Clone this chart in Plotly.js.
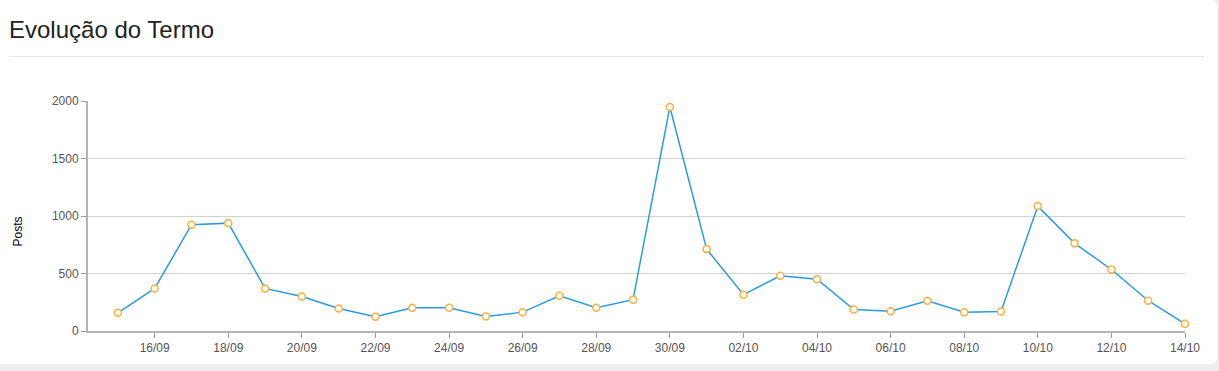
<!DOCTYPE html>
<html>
<head>
<meta charset="utf-8">
<script src="https://cdn.plot.ly/plotly-3.0.1.min.js"></script>
<style>
  html, body { margin: 0; padding: 0; background: #eeeeee; width: 1219px; height: 371px; overflow: hidden; }
  #card { position: absolute; left: 0; top: 0; width: 1217px; height: 364px; background: #ffffff; border-radius: 0 6px 6px 0; }
  #title { position: absolute; left: 9px; top: 18px; font-family: "Liberation Sans", Arial, sans-serif; font-size: 24px; line-height: 24px; color: #222222; white-space: nowrap; }
  #sep { position: absolute; left: 10px; top: 56px; width: 1194px; height: 1px; background: #e5e5e5; }
  #chart { position: absolute; left: 0; top: 0; width: 1219px; height: 371px; }
</style>
</head>
<body>
<div id="card"></div>
<div id="title">Evolução do Termo</div>
<div id="sep"></div>
<div id="chart"></div>
<script>
const dates = [
  "2023-09-15","2023-09-16","2023-09-17","2023-09-18","2023-09-19","2023-09-20",
  "2023-09-21","2023-09-22","2023-09-23","2023-09-24","2023-09-25","2023-09-26",
  "2023-09-27","2023-09-28","2023-09-29","2023-09-30","2023-10-01","2023-10-02",
  "2023-10-03","2023-10-04","2023-10-05","2023-10-06","2023-10-07","2023-10-08",
  "2023-10-09","2023-10-10","2023-10-11","2023-10-12","2023-10-13","2023-10-14"
];
const posts = [
  158, 370, 924, 938, 370, 300,
  196, 124, 202, 202, 126, 164,
  306, 202, 272, 1948, 712, 316,
  480, 451, 187, 172, 263, 164,
  170, 1086, 762, 535, 263, 63
];
const yTicks = [0, 500, 1000, 1500, 2000];
const yLabel = "Posts";

const trace = {
  x: dates,
  y: posts,
  type: "scatter",
  mode: "lines+markers",
  cliponaxis: false,
  line: { color: "#2b9be0", width: 1.5 },
  marker: { symbol: "circle", size: 7, color: "#ffffff", line: { color: "#fbb040", width: 1.5 } },
  hoverinfo: "x+y"
};

const layout = {
  width: 1219,
  height: 371,
  margin: { l: 88, r: 34, t: 101, b: 40 },
  paper_bgcolor: "rgba(0,0,0,0)",
  plot_bgcolor: "rgba(0,0,0,0)",
  showlegend: false,
  font: { family: "Liberation Sans, Arial, sans-serif", size: 12, color: "#555555" },
  xaxis: {
    type: "date",
    range: ["2023-09-14 04:30", "2023-10-14 00:00:01"],
    tick0: "2023-09-16",
    dtick: 2 * 86400000,
    tickformat: "%d/%m",
    showgrid: false,
    zeroline: false,
    showline: true,
    linecolor: "#b3b3b3",
    linewidth: 2,
    ticks: "outside",
    ticklen: 5,
    tickcolor: "#999999",
    tickwidth: 1,
    tickfont: { size: 12, color: "#555555" },
    fixedrange: true
  },
  yaxis: {
    range: [0, 2000],
    tickvals: yTicks,
    ticktext: yTicks.map(String),
    showgrid: true,
    gridcolor: "#d2d2d2",
    gridwidth: 1,
    zeroline: false,
    showline: true,
    linecolor: "#b3b3b3",
    linewidth: 2,
    ticks: "outside",
    ticklen: 5,
    tickcolor: "#999999",
    tickwidth: 1,
    tickfont: { size: 12, color: "#555555" },
    fixedrange: true
  },
  annotations: [{
    text: yLabel,
    xref: "paper", yref: "paper",
    x: -0.0638, y: 0.433,
    xanchor: "center", yanchor: "middle",
    textangle: -90,
    showarrow: false,
    font: { size: 12, color: "#000000" }
  }]
};

Plotly.newPlot("chart", [trace], layout, { displayModeBar: false });
</script>
</body>
</html>
